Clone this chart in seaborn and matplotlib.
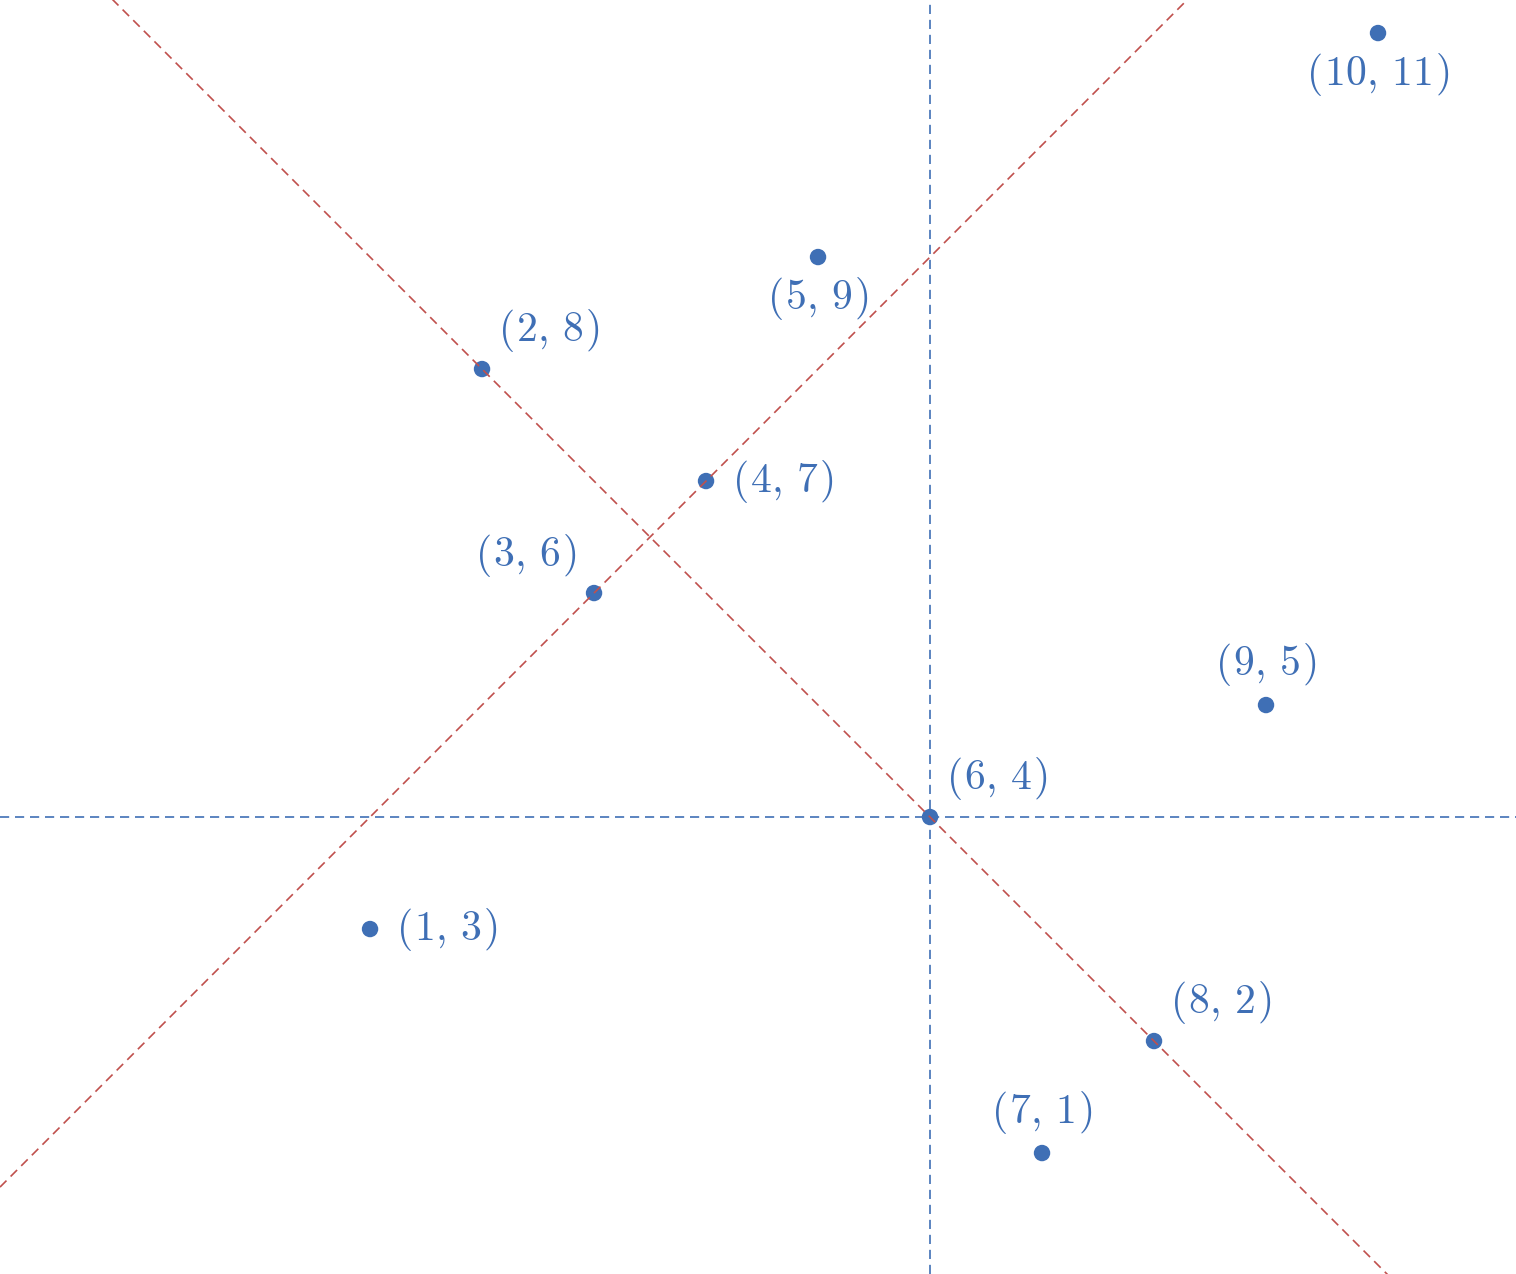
import matplotlib
matplotlib.use("Agg")
import matplotlib.pyplot as plt
import seaborn as sns
import numpy as np
import pandas as pd

# Data
xs = [1, 2, 3, 4, 5, 6, 7, 8, 9, 10]
ys = [3, 8, 6, 7, 9, 4, 1, 2, 5, 11]
labels = ["(1,3)", "(2,8)", "(3,6)", "(4,7)", "(5,9)", "(6,4)", "(7,1)", "(8,2)", "(9,5)", "(10,11)"]
label_pos = ["right", "upright", "upleft", "right", "below", "upright", "above", "upright", "above", "below"]
vline_x = 6
hline_y = 4
# red lines: y = slope * x + intercept
line_slopes = [-1, 1]
line_intercepts = [10, 3]

BLUE = "#3f6fb5"
RED = "#c0504d"

sns.set_theme(style="white")
plt.rcParams["mathtext.fontset"] = "cm"

fig = plt.figure(figsize=(15.16, 12.74), dpi=100)
ax = fig.add_axes([0, 0, 1, 1])
xlim = (-2.304, 11.232)
ylim = (-0.08, 11.295)
ax.set_xlim(*xlim)
ax.set_ylim(*ylim)
ax.axis("off")

dash = (0, (5.5, 3.5))
ax.axvline(vline_x, color=BLUE, lw=1.2, ls=dash, zorder=1)
ax.axhline(hline_y, color=BLUE, lw=1.2, ls=dash, zorder=1)

df = pd.DataFrame({"x": xs, "y": ys})
sns.scatterplot(data=df, x="x", y="y", ax=ax, color=BLUE, s=140, edgecolor="none", zorder=2, legend=False)

xx = np.array(xlim)
for m, b in zip(line_slopes, line_intercepts):
    ax.plot(xx, m * xx + b, color=RED, lw=1.2, ls=dash, zorder=3)
ax.set_xlim(*xlim)
ax.set_ylim(*ylim)

offsets = {
    "right": ((26, 0), "left"),
    "upright": ((16, 39), "left"),
    "upleft": ((-17, 38), "right"),
    "below": ((0, -41), "center"),
    "above": ((0, 41), "center"),
}
for x, y, lab, pos in zip(xs, ys, labels, label_pos):
    (dx, dy), ha = offsets[pos]
    a, b = lab.strip("()").split(",")
    txt = r"$(\hspace{0.07}%s,\,%s\hspace{0.07})$" % (a, b)
    ax.annotate(txt, (x, y), xytext=(dx, dy), textcoords="offset pixels",
                ha=ha, va="center", fontsize=30, color=BLUE, zorder=4)

ax.set_xlabel("")
ax.set_ylabel("")
fig.savefig("out.png", dpi=100)
